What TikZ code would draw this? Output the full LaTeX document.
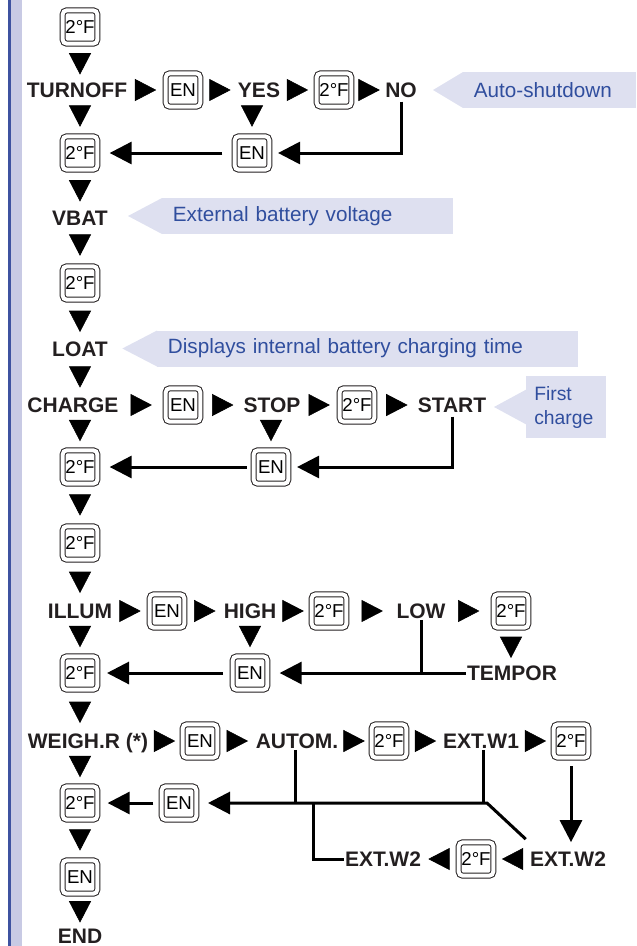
\documentclass[tikz,border=0pt]{standalone}
\usepackage{fontspec}
\setmainfont{Liberation Sans}
\usetikzlibrary{positioning,calc}
\usetikzlibrary{arrows.meta,decorations.markings}
\definecolor{BarBlue}{RGB}{62,82,160}
\definecolor{BarLilac}{RGB}{200,202,228}
\definecolor{NoteFill}{RGB}{222,224,240}
\definecolor{NoteText}{RGB}{48,78,158}
\definecolor{InkGray}{RGB}{35,31,32}
\tikzset{
  key/.style={draw=InkGray,double=white,line width=0.75pt,double distance=3pt,rounded corners=3pt,
    minimum width=26pt,minimum height=25pt,inner sep=0pt,outer sep=2.25pt,font=\fontsize{14}{15}\selectfont},
  lbl/.style={font=\fontsize{15.75}{17}\selectfont\bfseries,text=InkGray,inner sep=0pt,outer sep=1pt,
    text height=11.3pt,text depth=0pt},
  note/.style={fill=NoteFill,text=NoteText,font=\fontsize{15.5}{18}\selectfont,inner xsep=8pt,inner ysep=0pt,
    minimum height=27pt,align=left,anchor=west},
}
\tikzset{tri/.style={decoration={markings,mark=at position 0.5 with {\arrow[xshift=8pt]{Triangle[length=16pt,width=16.5pt]}}},postaction=decorate},
  back/.style={draw=black,line width=2.25pt,-{Triangle[length=16.5pt,width=16.5pt]}},
  link/.style={draw=black,line width=2.25pt}}

\begin{document}
\begin{tikzpicture}[x=0.75pt,y=-0.75pt]
\useasboundingbox (0,0) rectangle (636,946);
\fill[BarLilac] (8,0) rectangle (22,946);
\fill[BarBlue] (8,0) rectangle (11,946);
% notes
\node[note,text width=113.75pt] (n1) at (463,90) {Auto-shutdown};
\node[note,text width=202pt] (n2) at (162,216) {External battery voltage};
\node[note,text width=299.75pt] (n3) at (157,348.5) {Displays internal battery charging time};
\node[note,text width=48pt,inner xsep=6pt,minimum height=46.5pt,font=\fontsize{14.5}{18}\selectfont] (n4) at (526,407) {First\\charge};
\fill[NoteFill] ([yshift=13.5pt]n1.west) -- ([xshift=-22.5pt]n1.west) -- ([yshift=-13.5pt]n1.west) -- cycle;
\fill[NoteFill] ([yshift=13.5pt]n2.west) -- ([xshift=-25.5pt]n2.west) -- ([yshift=-13.5pt]n2.west) -- cycle;
\fill[NoteFill] ([yshift=13.5pt]n3.west) -- ([xshift=-26pt]n3.west) -- ([yshift=-13.5pt]n3.west) -- cycle;
\fill[NoteFill] ([yshift=13pt]n4.west) -- ([xshift=-24pt]n4.west) -- ([yshift=-13pt]n4.west) -- cycle;
% keys and labels
\node[key] (f1) at (80,27) {2°F};
\node[lbl] (turnoff) at (77,90) {TURNOFF};
\node[key] (en1) at (183,90) {EN};
\node[lbl] (yes) at (259,90) {YES};
\node[key] (f1b) at (334,90) {2°F};
\node[lbl] (no) at (401,90) {NO};
\node[key] (f2) at (80,153) {2°F};
\node[key] (en1b) at (252,153) {EN};
\node[lbl] (vbat) at (80,218) {VBAT};
\node[key] (f3) at (80,283) {2°F};
\node[lbl] (loat) at (80,349) {LOAT};
\node[lbl] (charge) at (73,405) {CHARGE};
\node[key] (en2) at (183,405) {EN};
\node[lbl] (stop) at (272,405) {STOP};
\node[key] (f2b) at (357,405) {2°F};
\node[lbl] (start) at (452,405) {START};
\node[key] (f4) at (80,467) {2°F};
\node[key] (en2b) at (271,467) {EN};
\node[key] (f5) at (80,543) {2°F};
\node[lbl] (illum) at (80,611) {ILLUM};
\node[key] (en3) at (167,611) {EN};
\node[lbl] (high) at (250,611) {HIGH};
\node[key] (f3b) at (329,611) {2°F};
\node[lbl] (low) at (421,611) {LOW};
\node[key] (f3c) at (511,611) {2°F};
\node[key] (f6) at (80,673) {2°F};
\node[key] (en3b) at (250,673) {EN};
\node[lbl] (tempor) at (512,673) {TEMPOR};
\node[lbl] (weigh) at (88,741) {WEIGH.R (*)};
\node[key] (en4) at (200,741) {EN};
\node[lbl] (autom) at (297,741) {AUTOM.};
\node[key] (f4b) at (389,741) {2°F};
\node[lbl] (extwa) at (481,741) {EXT.W1};
\node[key] (f4c) at (571,741) {2°F};
\node[key] (f7) at (80,803) {2°F};
\node[key] (en4b) at (179,803) {EN};
\node[lbl] (extwb) at (383,859) {EXT.W2};
\node[key] (f4d) at (476,859) {2°F};
\node[lbl] (extwc) at (568,859) {EXT.W2};
\node[key] (en7) at (80,877) {EN};
\node[lbl] (fin) at (80,936) {END};
% step triangles
\path[tri] (f1) -- (f1 |- turnoff.north);
\path[tri] (turnoff) -- (en1);
\path[tri] (en1) -- (yes);
\path[tri] (yes) -- (f1b);
\path[tri] (f1b) -- (no);
\path[tri] (f2 |- turnoff.south) -- (f2);
\path[tri] (en1b |- yes.south) -- (en1b);
\path[tri] (f2) -- (vbat);
\path[tri] (vbat) -- (f3);
\path[tri] (f3) -- (loat);
\path[tri] (loat) -- (loat |- charge.north);
\path[tri] (charge) -- (en2);
\path[tri] (en2) -- (stop);
\path[tri] (stop) -- (f2b);
\path[tri] (f2b) -- (start);
\path[tri] (f4 |- charge.south) -- (f4);
\path[tri] (en2b |- stop.south) -- (en2b);
\path[tri] (f4) -- (f5);
\path[tri] (f5) -- (illum);
\path[tri] (illum) -- (en3);
\path[tri] (en3) -- (high);
\path[tri] (high) -- (f3b);
\path[tri] (f3b) -- (low);
\path[tri] (low) -- (f3c);
\path[tri] (f3c) -- (f3c |- tempor.north);
\path[tri] (illum) -- (f6);
\path[tri] (high) -- (en3b);
\path[tri] (f6) -- (f6 |- weigh.north);
\path[tri] (weigh) -- (en4);
\path[tri] (en4) -- (autom);
\path[tri] (autom) -- (f4b);
\path[tri] (f4b) -- (extwa);
\path[tri] (extwa) -- (f4c);
\path[tri] (f7 |- weigh.south) -- (f7);
\path[tri] (f7) -- (en7);
\path[tri] (en7) -- (fin);
\path[tri] (extwc) -- (f4d);
\path[tri] (f4d) -- (extwb);
% return lines
\coordinate (lowj) at (low |- tempor);
\coordinate (ja) at (295,803);
\coordinate (jb) at (313,803);
\coordinate (jc) at (483,803);
\coordinate (jd) at (487,803);
\coordinate (jw) at ([shift={(-3,-11)}]extwc.north west);
\draw[back,shorten <=7pt,shorten >=7pt] (en1b) -- (f2);
\draw[back,shorten <=2pt,shorten >=4.3pt] (no.south) |- (en1b.east);
\draw[back,shorten <=3pt,shorten >=7pt] (en2b) -- (f4);
\draw[back,shorten <=2pt,shorten >=4.3pt] (start.south) |- (en2b.east);
\draw[back,shorten <=5pt,shorten >=5pt] (en3b) -- (f6);
\draw[link] (low.south) -- (lowj);
\draw[back,shorten >=7pt] (tempor.west) -- (en3b.east);
\draw[back,shorten <=4pt,shorten >=5.5pt] (en4b) -- (f7);
\draw[link] (autom.south -| ja) -- (ja);
\draw[link] (extwa.south -| jc) -- (jc);
\draw[link] (extwb.west) -| (jb);
\draw[back,shorten >=6.5pt] (jw) -- (jd) -- (en4b.east);
\draw[back,shorten <=4pt,shorten >=6pt] (f4c.south) -- (f4c |- extwc.north);
\end{tikzpicture}
\end{document}
